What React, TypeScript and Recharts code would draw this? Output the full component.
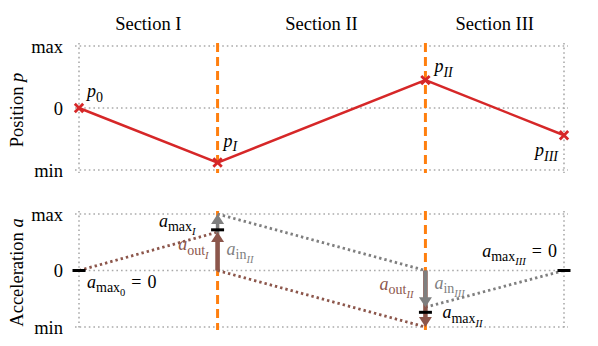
import React from "react";
import { ComposedChart, Line, XAxis, YAxis, ReferenceLine, ReferenceDot } from "recharts";

// ---- data ----
const sectionNames = ["Section I", "Section II", "Section III"];
const sectionCenters = [1, 3.5, 6];
const boundaryX = [0, 2, 5, 7];
const boundaryNames = ["0", "I", "II", "III"];
const positionValues = [0, -0.88, 0.45, -0.44];
const yTicks = [-1, 0, 1];
const yTickLabels = ["min", "0", "max"];
const accMax = [0, 0.72, -0.74, 0]; // at each boundary
const accOut = [0.68, -1]; // a_out at boundaries I, II
const accIn = [1, -0.65]; // a_in at boundaries I (for II), II (for III)

// ---- styles ----
const RED = "#d62728";
const ORANGE = "#ff7f0e";
const BROWN = "#8c564b";
const GRAY = "#7f7f7f";
const GRID = "#aaaaaa";
const FONT = '"Liberation Serif", "Times New Roman", serif';

type Part = { t: string; italic?: boolean; level: number; dx?: number };
const SIZES = [18, 14, 10.5];
const SHIFTS = [0, 4.5, 8.5];

function MathText({ x, y, anchor, parts, fill }: { x: number; y: number; anchor: string; parts: Part[]; fill: string }) {
  let prev = 0;
  return (
    <text x={x} y={y} textAnchor={anchor as any} fill={fill} fontFamily={FONT}>
      {parts.map((p, i) => {
        const s = SHIFTS[p.level];
        const dy = s - prev;
        prev = s;
        return (
          <tspan key={i} dy={dy} dx={p.dx ?? 0} fontSize={SIZES[p.level]} fontStyle={p.italic ? "italic" : "normal"}>
            {p.t}
          </tspan>
        );
      })}
    </text>
  );
}

const labelShape = (parts: Part[], dx: number, dy: number, anchor: string, fill: string) => (props: any) => (
  <MathText x={props.cx + dx} y={props.cy + dy} anchor={anchor} parts={parts} fill={fill} />
);

const hGrid = (p: any) => (
  <line x1={p.x1 - 4} x2={p.x2 + 4} y1={p.y1} y2={p.y2} stroke={GRID} strokeWidth={1.6} strokeDasharray="1.6 3" />
);
const vGrid = (p: any) => (
  <line x1={p.x1} x2={p.x2} y1={Math.min(p.y1, p.y2) - 3} y2={Math.max(p.y1, p.y2) + 3} stroke={GRID} strokeWidth={1.6} strokeDasharray="1.6 3" />
);
const orangeLine = (p: any) => (
  <line x1={p.x1} x2={p.x2} y1={Math.min(p.y1, p.y2) - 3} y2={Math.max(p.y1, p.y2) + 3} stroke={ORANGE} strokeWidth={3} strokeDasharray="9 5" />
);

const arrowShape = (color: string, width: number) => (p: any) => {
  const dir = Math.sign(p.y2 - p.y1) || 1;
  const headLen = 10;
  const hw = 6.5;
  const baseY = p.y2 - dir * headLen;
  return (
    <g>
      <line x1={p.x1} y1={p.y1} x2={p.x2} y2={baseY + dir * 1} stroke={color} strokeWidth={width} />
      <polygon points={`${p.x2 - hw},${baseY} ${p.x2 + hw},${baseY} ${p.x2},${p.y2}`} fill={color} />
    </g>
  );
};

const TickMark = (p: any) => (
  <line key={`tm-${p.index}`} x1={p.cx - 6.5} x2={p.cx + 6.5} y1={p.cy} y2={p.cy} stroke="#000" strokeWidth={3} />
);

const XMarker = (props: any) => {
  const { cx, cy, index } = props;
  const s = 4.2;
  return (
    <path
      key={`m-${index}`}
      d={`M${cx - s},${cy - s}L${cx + s},${cy + s}M${cx - s},${cy + s}L${cx + s},${cy - s}`}
      stroke={RED}
      strokeWidth={2.8}
      fill="none"
    />
  );
};

const yTitle = (main: string, sym: string) => (props: any) => {
  const vb = props.viewBox || {};
  const cx = (vb.x ?? 0) + 23;
  const cy = (vb.y ?? 0) + (vb.height ?? 0) / 2 + 2;
  return (
    <text x={cx} y={cy} transform={`rotate(-90 ${cx} ${cy})`} textAnchor="middle" fontFamily={FONT} fontSize={18.5} fill="#000">
      <tspan>{main} </tspan>
      <tspan fontStyle="italic">{sym}</tspan>
    </text>
  );
};

const posData = boundaryX.map((x, i) => ({ x, p: positionValues[i] }));
const accData = boundaryX.map((x, i) => ({ x, amax: accMax[i] }));

const tickStyle = { fill: "#000", fontSize: 18.5, fontFamily: FONT };
const DOT_W = 2.8;
const DOT_DASH = "2.4 3";

export default function App() {
  const posLabelOffsets = [
    { dx: 8, dy: -11, anchor: "start" },
    { dx: 6, dy: -16, anchor: "start" },
    { dx: 9, dy: -8, anchor: "start" },
    { dx: -6, dy: 21, anchor: "end" },
  ];
  const eq: Part[] = [
    { t: "=", level: 0, dx: 6 },
    { t: "0", level: 0, dx: 6 },
  ];
  return (
    <div style={{ position: "absolute", left: 0, top: 0, width: 598, height: 346, background: "#fff", fontFamily: FONT }}>
      <div style={{ position: "absolute", left: 0, top: 0 }}>
        <ComposedChart width={598} height={180} data={posData} margin={{ top: 0, right: 34, bottom: 10, left: 0 }}>
          <XAxis
            type="number"
            dataKey="x"
            domain={[0, 7]}
            orientation="top"
            ticks={sectionCenters}
            tickFormatter={(v: number) => sectionNames[sectionCenters.indexOf(v)]}
            axisLine={false}
            tickLine={false}
            height={46}
            tickSize={0}
            tickMargin={16}
            interval={0}
            tick={tickStyle}
          />
          <YAxis
            type="number"
            domain={[-1, 1]}
            ticks={yTicks}
            tickFormatter={(v: number) => yTickLabels[yTicks.indexOf(v)]}
            axisLine={false}
            tickLine={false}
            width={79}
            tickSize={0}
            tickMargin={16}
            interval={0}
            tick={tickStyle}
            label={yTitle("Position", "p")}
          />
          {yTicks.map((v) => (
            <ReferenceLine key={`h${v}`} y={v} shape={hGrid} />
          ))}
          {[boundaryX[0], boundaryX[3]].map((x) => (
            <ReferenceLine key={`v${x}`} x={x} shape={vGrid} />
          ))}
          {[boundaryX[1], boundaryX[2]].map((x) => (
            <ReferenceLine key={`o${x}`} x={x} shape={orangeLine} />
          ))}
          <Line dataKey="p" stroke={RED} strokeWidth={2.5} dot={XMarker} activeDot={false} isAnimationActive={false} />
          {boundaryX.map((x, i) => (
            <ReferenceDot
              key={`pl${i}`}
              x={x}
              y={positionValues[i]}
              r={0}
              shape={labelShape(
                [
                  { t: "p", italic: true, level: 0 },
                  { t: boundaryNames[i], italic: i > 0, level: 1 },
                ],
                posLabelOffsets[i].dx,
                posLabelOffsets[i].dy,
                posLabelOffsets[i].anchor,
                "#000"
              )}
            />
          ))}
        </ComposedChart>
      </div>
      <div style={{ position: "absolute", left: 0, top: 180 }}>
        <ComposedChart width={598} height={166} data={accData} margin={{ top: 34, right: 34, bottom: 19, left: 0 }}>
          <XAxis type="number" dataKey="x" domain={[0, 7]} hide />
          <YAxis
            type="number"
            domain={[-1, 1]}
            ticks={yTicks}
            tickFormatter={(v: number) => yTickLabels[yTicks.indexOf(v)]}
            axisLine={false}
            tickLine={false}
            width={79}
            tickSize={0}
            tickMargin={16}
            interval={0}
            tick={tickStyle}
            label={yTitle("Acceleration", "a")}
          />
          {yTicks.map((v) => (
            <ReferenceLine key={`h${v}`} y={v} shape={hGrid} />
          ))}
          {[boundaryX[0], boundaryX[3]].map((x) => (
            <ReferenceLine key={`v${x}`} x={x} shape={vGrid} />
          ))}
          {[boundaryX[1], boundaryX[2]].map((x) => (
            <ReferenceLine key={`o${x}`} x={x} shape={orangeLine} />
          ))}
          {/* brown dotted: a_out trajectories */}
          <ReferenceLine
            segment={[{ x: boundaryX[0], y: accMax[0] }, { x: boundaryX[1], y: accOut[0] }]}
            stroke={BROWN}
            strokeWidth={DOT_W}
            strokeDasharray={DOT_DASH}
          />
          <ReferenceLine
            segment={[{ x: boundaryX[1], y: 0 }, { x: boundaryX[2], y: accOut[1] }]}
            stroke={BROWN}
            strokeWidth={DOT_W}
            strokeDasharray={DOT_DASH}
          />
          {/* gray dotted: a_in trajectories */}
          <ReferenceLine
            segment={[{ x: boundaryX[1], y: accIn[0] }, { x: boundaryX[2], y: 0 }]}
            stroke={GRAY}
            strokeWidth={DOT_W}
            strokeDasharray={DOT_DASH}
          />
          <ReferenceLine
            segment={[{ x: boundaryX[2], y: accIn[1] }, { x: boundaryX[3], y: accMax[3] }]}
            stroke={GRAY}
            strokeWidth={DOT_W}
            strokeDasharray={DOT_DASH}
          />
          {/* arrows at boundary I: gray under brown */}
          <ReferenceLine segment={[{ x: boundaryX[1], y: 0 }, { x: boundaryX[1], y: accIn[0] }]} shape={arrowShape(GRAY, 3.5)} />
          <ReferenceLine segment={[{ x: boundaryX[1], y: 0 }, { x: boundaryX[1], y: accOut[0] }]} shape={arrowShape(BROWN, 4.5)} />
          {/* arrows at boundary II: brown under gray */}
          <ReferenceLine segment={[{ x: boundaryX[2], y: 0 }, { x: boundaryX[2], y: accOut[1] }]} shape={arrowShape(BROWN, 4.5)} />
          <ReferenceLine segment={[{ x: boundaryX[2], y: 0 }, { x: boundaryX[2], y: accIn[1] }]} shape={arrowShape(GRAY, 3.5)} />
          {/* a_max markers */}
          <Line dataKey="amax" stroke="none" dot={TickMark} activeDot={false} isAnimationActive={false} />
          {/* labels */}
          <ReferenceDot
            x={boundaryX[0]}
            y={accMax[0]}
            r={0}
            shape={labelShape(
              [
                { t: "a", italic: true, level: 0 },
                { t: "max", level: 1 },
                { t: "0", level: 2 },
                ...eq,
              ],
              8,
              17,
              "start",
              "#000"
            )}
          />
          <ReferenceDot
            x={boundaryX[1]}
            y={accMax[1]}
            r={0}
            shape={labelShape(
              [
                { t: "a", italic: true, level: 0 },
                { t: "max", level: 1 },
                { t: "I", italic: true, level: 2 },
              ],
              -22,
              -3,
              "end",
              "#000"
            )}
          />
          <ReferenceDot
            x={boundaryX[1]}
            y={accOut[0]}
            r={0}
            shape={labelShape(
              [
                { t: "a", italic: true, level: 0 },
                { t: "out", level: 1 },
                { t: "I", italic: true, level: 2 },
              ],
              -9,
              18,
              "end",
              BROWN
            )}
          />
          <ReferenceDot
            x={boundaryX[1]}
            y={0}
            r={0}
            shape={labelShape(
              [
                { t: "a", italic: true, level: 0 },
                { t: "in", level: 1 },
                { t: "II", italic: true, level: 2 },
              ],
              9,
              -16,
              "start",
              GRAY
            )}
          />
          <ReferenceDot
            x={boundaryX[2]}
            y={0}
            r={0}
            shape={labelShape(
              [
                { t: "a", italic: true, level: 0 },
                { t: "out", level: 1 },
                { t: "II", italic: true, level: 2 },
              ],
              -12,
              19,
              "end",
              BROWN
            )}
          />
          <ReferenceDot
            x={boundaryX[2]}
            y={0}
            r={0}
            shape={labelShape(
              [
                { t: "a", italic: true, level: 0 },
                { t: "in", level: 1 },
                { t: "III", italic: true, level: 2 },
              ],
              9,
              18,
              "start",
              GRAY
            )}
          />
          <ReferenceDot
            x={boundaryX[2]}
            y={accMax[2]}
            r={0}
            shape={labelShape(
              [
                { t: "a", italic: true, level: 0 },
                { t: "max", level: 1 },
                { t: "II", italic: true, level: 2 },
              ],
              17,
              6,
              "start",
              "#000"
            )}
          />
          <ReferenceDot
            x={boundaryX[3]}
            y={accMax[3]}
            r={0}
            shape={labelShape(
              [
                { t: "a", italic: true, level: 0 },
                { t: "max", level: 1 },
                { t: "III", italic: true, level: 2 },
                ...eq,
              ],
              -7,
              -14,
              "end",
              "#000"
            )}
          />
        </ComposedChart>
      </div>
    </div>
  );
}
